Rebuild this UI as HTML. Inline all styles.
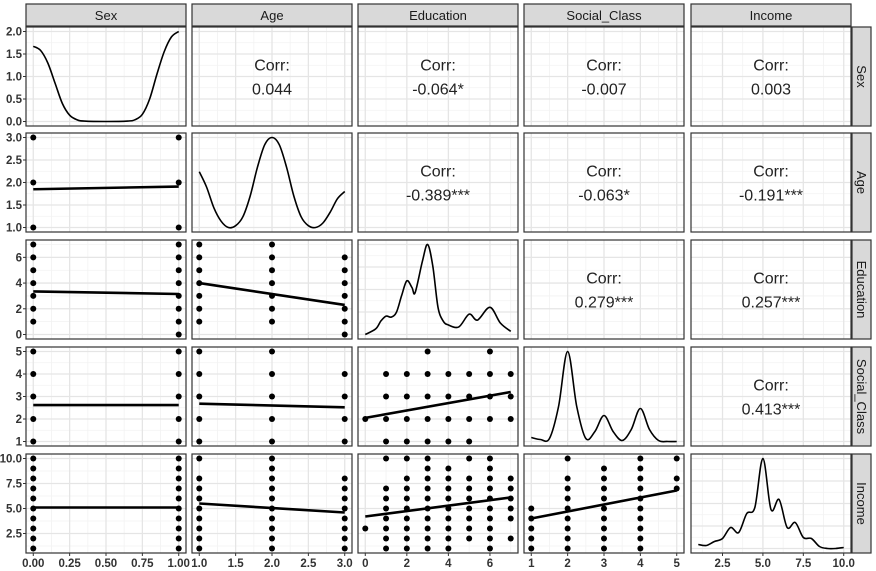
<!DOCTYPE html>
<html><head><meta charset="utf-8"><style>
html,body{margin:0;padding:0;background:#fff;}
svg{display:block;font-family:"Liberation Sans",sans-serif;}
</style></head><body>
<svg id="chart" width="876" height="571" viewBox="0 0 876 571"></svg>
<script>
const varNames=["Sex","Age","Education","Social_Class","Income"];
const varMin=[0,1,0,1,1];
const varMax=[1,3,7,5,10];
const tickSex=[0,0.25,0.5,0.75,1];
const tickAge=[1,1.5,2,2.5,3];
const tickEdu=[0,2,4,6];
const tickSoc=[1,2,3,4,5];
const tickInc=[2.5,5,7.5,10];
const tickLabSex=["0.00","0.25","0.50","0.75","1.00"];
const tickLabAge=["1.0","1.5","2.0","2.5","3.0"];
const tickLabEdu=["0","2","4","6"];
const tickLabSoc=["1","2","3","4","5"];
const tickLabInc=["2.5","5.0","7.5","10.0"];
const sexDensTicks=[0,0.5,1,1.5,2];
const sexDensTickLab=["0.0","0.5","1.0","1.5","2.0"];
const corrTop=[[null,"0.044","-0.064*","-0.007","0.003"],[null,null,"-0.389***","-0.063*","-0.191***"],[null,null,null,"0.279***","0.257***"],[null,null,null,null,"0.413***"]];
// densities
const densSexX=[0,0.05,0.1,0.15,0.2,0.25,0.3,0.35,0.5,0.65,0.7,0.75,0.8,0.85,0.9,0.95,1];
const densSexY=[1.67,1.58,1.3,0.85,0.4,0.14,0.04,0.01,0,0.01,0.04,0.16,0.5,1.05,1.55,1.88,2.0];
const densAgeX=[1,1.1,1.2,1.3,1.4,1.5,1.6,1.7,1.8,1.9,2,2.1,2.2,2.3,2.4,2.5,2.6,2.7,2.8,2.9,3];
const densAgeY=[0.62,0.45,0.22,0.07,0.0,0.02,0.12,0.35,0.67,0.92,1.0,0.92,0.67,0.35,0.12,0.02,0.0,0.05,0.17,0.32,0.4];
const densEduX=[0,0.5,0.75,1,1.25,1.5,1.75,2,2.25,2.4,2.75,3,3.25,3.5,3.75,4,4.5,5,5.4,6,6.5,7];
const densEduY=[0.3,6,14,19,18,23,40,55,48,43,75,92,70,28,14,10,8,21,15,28,12,3.5];
const densSocX=[1,1.25,1.5,1.75,2,2.25,2.5,2.75,3,3.25,3.5,3.75,4,4.25,4.5,4.75,5];
const densSocY=[4,2,3,35,90,35,3,10,26,10,1,12,33,12,1,0,0];
const densIncX=[1,1.5,2,2.5,3,3.5,4,4.5,5,5.5,6,6.5,7,7.5,8,8.5,9,9.5,10];
const densIncY=[4,3,7,10,21,16,35,41,90,39,49,21,26,11,10,2,0,0,1];
// scatter points: [xVar, yVar] -> x values & y values
const ptsAgeSexX=[0,0,0,1,1,1];
const ptsAgeSexY=[1,2,3,1,2,3];
const ptsEduSexX=[0,0,0,0,0,0,0,1,1,1,1,1,1,1,1];
const ptsEduSexY=[1,2,3,4,5,6,7,0,1,2,3,4,5,6,7];
const ptsEduAgeX=[1,1,1,1,1,1,1,2,2,2,2,2,2,2,3,3,3,3,3,3,3];
const ptsEduAgeY=[1,2,3,4,5,6,7,1,2,3,4,5,6,7,0,1,2,3,4,5,6];
const ptsSocSexX=[0,0,0,0,0,1,1,1,1,1];
const ptsSocSexY=[1,2,3,4,5,1,2,3,4,5];
const ptsSocAgeX=[1,1,1,1,1,2,2,2,2,2,3,3,3,3];
const ptsSocAgeY=[1,2,3,4,5,1,2,3,4,5,1,2,3,4];
const ptsSocEduX=[3,6,1,2,3,4,5,6,7,1,2,3,4,5,6,7,0,1,2,3,4,5,6,7,1,2,3,4,5];
const ptsSocEduY=[5,5,4,4,4,4,4,4,4,3,3,3,3,3,3,3,2,2,2,2,2,2,2,2,1,1,1,1,1];
const ptsIncSexX=[0,0,0,0,0,0,0,0,0,0,1,1,1,1,1,1,1,1,1,1];
const ptsIncSexY=[1,2,3,4,5,6,7,8,9,10,1,2,3,4,5,6,7,8,9,10];
const ptsIncAgeX=[1,1,1,1,1,1,1,1,1,2,2,2,2,2,2,2,2,2,2,3,3,3,3,3,3,3,3];
const ptsIncAgeY=[1,2,3,4,5,6,7,8,10,1,2,3,4,5,6,7,8,9,10,1,2,3,4,5,6,7,8];
const ptsIncEduX=[1,2,3,5,6,3,4,6,2,3,4,5,6,7,1,2,3,4,5,6,7,1,2,3,4,5,6,7,1,2,3,4,5,6,7,1,2,3,4,5,6,7,0,1,2,3,4,5,6,1,2,3,4,5,6,7,1,2,3,4,6];
const ptsIncEduY=[10,10,10,10,10,9,9,9,8,8,8,8,8,8,7,7,7,7,7,7,7,6,6,6,6,6,6,6,5,5,5,5,5,5,5,4,4,4,4,4,4,4,3,3,3,3,3,3,3,2,2,2,2,2,2,2,1,1,1,1,1];
const ptsIncSocX=[1,1,1,1,1,2,2,2,2,2,2,2,2,2,3,3,3,3,3,3,3,3,3,4,4,4,4,4,4,4,4,4,4,5,5,5];
const ptsIncSocY=[5,4,3,2,1,10,8,7,6,5,4,3,2,1,9,8,7,6,5,4,3,2,1,10,9,8,7,6,5,4,3,2,1,10,8,7];
// regression fits: y at x=min and x=max
const fitStart=[[],[1.85],[3.35,4.0],[2.62,2.68,2.05],[5.1,5.5,4.2,4.0]];
const fitEnd=[[],[1.91],[3.15,2.3],[2.62,2.52,3.2],[5.1,4.6,6.1,6.8]];

const scatter={"1,0":[ptsAgeSexX,ptsAgeSexY],"2,0":[ptsEduSexX,ptsEduSexY],"2,1":[ptsEduAgeX,ptsEduAgeY],
"3,0":[ptsSocSexX,ptsSocSexY],"3,1":[ptsSocAgeX,ptsSocAgeY],"3,2":[ptsSocEduX,ptsSocEduY],
"4,0":[ptsIncSexX,ptsIncSexY],"4,1":[ptsIncAgeX,ptsIncAgeY],"4,2":[ptsIncEduX,ptsIncEduY],"4,3":[ptsIncSocX,ptsIncSocY]};
const dens=[[densSexX,densSexY],[densAgeX,densAgeY],[densEduX,densEduY],[densSocX,densSocY],[densIncX,densIncY]];
const ticks=[tickSex,tickAge,tickEdu,tickSoc,tickInc];
const tickLabs=[tickLabSex,tickLabAge,tickLabEdu,tickLabSoc,tickLabInc];

const NS="http://www.w3.org/2000/svg";
const svg=document.getElementById("chart");
const colX=[26,192,358,524,691], rowY=[27,133,240,347,454], PW=160, PH=99;
function mk(tag,attrs,parent){const e=document.createElementNS(NS,tag);for(const k in attrs)e.setAttribute(k,attrs[k]);(parent||svg).appendChild(e);return e;}
function scale(d0,d1,r0,r1){const p=(d1-d0)*0.05;const a=d0-p,b=d1+p;return v=>r0+(v-a)/(b-a)*(r1-r0);}
function minorOf(t){const m=[];for(let i=0;i<t.length-1;i++)m.push((t[i]+t[i+1])/2);const st=t[1]-t[0];m.unshift(t[0]-st/2);m.push(t[t.length-1]+st/2);return m;}
function smoothPath(pts){let d="M"+pts[0][0]+","+pts[0][1];for(let i=0;i<pts.length-1;i++){const p0=pts[i-1]||pts[i],p1=pts[i],p2=pts[i+1],p3=pts[i+2]||p2;const t=1/6;d+=" C"+(p1[0]+(p2[0]-p0[0])*t)+","+(p1[1]+(p2[1]-p0[1])*t)+" "+(p2[0]-(p3[0]-p1[0])*t)+","+(p2[1]-(p3[1]-p1[1])*t)+" "+p2[0]+","+p2[1];}return d;}

for(let r=0;r<5;r++){for(let c=0;c<5;c++){
  const x0=colX[c],y0=rowY[r];
  const g=mk("g",{});
  
  
  mk("rect",{x:x0,y:y0,width:PW,height:PH,fill:"#fff"},g);
  const sx=scale(varMin[c],varMax[c],x0,x0+PW);
  let sy, yt, ymt;
  if(r===c){
    const dy=dens[c][1];let mn=Math.min(...dy),mx=Math.max(...dy);
    if(c===0){mn=0;mx=2;}
    sy=scale(mn,mx,y0+PH,y0);
    if(c===0){yt=sexDensTicks;}else{const st=(mx-mn)/4;yt=[mn,mn+st,mn+2*st,mn+3*st,mx];}
  } else {sy=scale(varMin[r],varMax[r],y0+PH,y0);yt=ticks[r];}
  const xt=ticks[c];
  minorOf(xt).forEach(v=>{const X=sx(v);if(X>x0&&X<x0+PW)mk("line",{x1:X,x2:X,y1:y0,y2:y0+PH,stroke:"#f2f2f2","stroke-width":0.8},g);});
  minorOf(yt).forEach(v=>{const Y=sy(v);if(Y>y0&&Y<y0+PH)mk("line",{x1:x0,x2:x0+PW,y1:Y,y2:Y,stroke:"#f2f2f2","stroke-width":0.8},g);});
  xt.forEach(v=>{const X=sx(v);mk("line",{x1:X,x2:X,y1:y0,y2:y0+PH,stroke:"#e5e5e5","stroke-width":1.3},g);});
  yt.forEach(v=>{const Y=sy(v);mk("line",{x1:x0,x2:x0+PW,y1:Y,y2:Y,stroke:"#e5e5e5","stroke-width":1.3},g);});
  if(r<c){
    const cx=x0+PW/2,cy=y0+PH/2;
    const t1=mk("text",{x:cx,y:cy-6,"text-anchor":"middle","font-size":16,fill:"#222"},g);t1.textContent="Corr:";
    
    const t2=mk("text",{x:cx,y:cy+18,"text-anchor":"middle","font-size":16,fill:"#222"},g);t2.textContent=corrTop[r][c];
    
  } else if(r===c){
    const pts=dens[c][0].map((v,i)=>[sx(v),sy(dens[c][1][i])]);
    const p=mk("path",{d:smoothPath(pts),fill:"none",stroke:"#000","stroke-width":1.6},g);
    
  } else {
    const [px,py]=scatter[r+","+c];
    px.forEach((v,i)=>{const d=mk("circle",{cx:sx(v),cy:sy(py[i]),r:3,fill:"#000"},g);
      });
    const l=mk("line",{x1:sx(varMin[c]),y1:sy(fitStart[r][c]),x2:sx(varMax[c]),y2:sy(fitEnd[r][c]),stroke:"#000","stroke-width":2.6},g);
    
  }
  mk("rect",{x:x0,y:y0,width:PW,height:PH,fill:"none",stroke:"#333","stroke-width":1.2},g);
  // axes
  if(c===0){
    const labs=(r===0)?sexDensTickLab:tickLabs[r];const tv=(r===0)?sexDensTicks:ticks[r];
    tv.forEach((v,i)=>{const Y=sy(v);mk("line",{x1:x0-3,x2:x0,y1:Y,y2:Y,stroke:"#333","stroke-width":1},g);
      const t=mk("text",{x:x0-4,y:Y+4,"text-anchor":"end","font-size":11.5,fill:"#333","font-weight":"bold"},g);t.textContent=labs[i];
      });
  }
  if(r===4){
    ticks[c].forEach((v,i)=>{const X=sx(v);mk("line",{x1:X,x2:X,y1:y0+PH,y2:y0+PH+3,stroke:"#333","stroke-width":1},g);
      const t=mk("text",{x:X,y:y0+PH+14,"text-anchor":"middle","font-size":11.5,fill:"#333","font-weight":"bold"},g);t.textContent=tickLabs[c][i];
      });
  }
}}
// strips
for(let c=0;c<5;c++){
  const g=mk("g",{});
  mk("rect",{x:colX[c],y:4,width:PW,height:22,fill:"#d9d9d9",stroke:"#333","stroke-width":1.2},g);
  const t=mk("text",{x:colX[c]+PW/2,y:20,"text-anchor":"middle","font-size":13,fill:"#1a1a1a"},g);t.textContent=varNames[c];
}
for(let r=0;r<5;r++){
  const g=mk("g",{});
  mk("rect",{x:852,y:rowY[r],width:19,height:PH,fill:"#d9d9d9",stroke:"#333","stroke-width":1.2},g);
  const cx=857,cy=rowY[r]+PH/2;
  const t=mk("text",{x:cx,y:cy,"text-anchor":"middle","font-size":13,fill:"#1a1a1a",transform:"rotate(90 "+cx+" "+cy+")"},g);t.textContent=varNames[r];
}
</script>
</body></html>
